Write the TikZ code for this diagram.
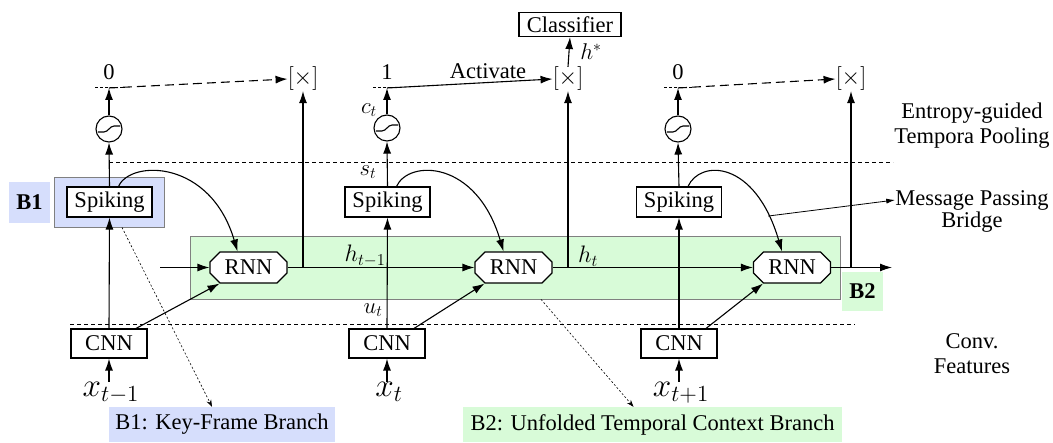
\documentclass[tikz,border=0pt]{standalone}
\usepackage{fontspec}
\setmainfont{Liberation Serif}
\usetikzlibrary{arrows.meta,shapes.misc,calc}
\definecolor{bluebg}{RGB}{214,222,252}
\definecolor{greenbg}{RGB}{216,251,216}
\newcommand{\scmath}[2]{\scalebox{#1}{$#2$}}
\begin{document}
\begin{tikzpicture}[x=1pt,y=-1pt,font=\fontsize{22.5}{25}\selectfont,
  lw/.style={line width=1.1pt},
  arr/.style={lw,-{Latex[length=12pt,width=8pt]}},
  thinarr/.style={line width=0.8pt,-{Latex[length=9pt,width=5pt]}},
  dotarr/.style={line width=0.6pt,dash pattern=on 2pt off 2pt,-{Stealth[length=7pt,width=5pt]}},
  topdash/.style={dash pattern=on 9pt off 5pt},
  shortdash/.style={line width=1pt,dash pattern=on 3pt off 2pt},
  leveldash/.style={line width=1pt,dash pattern=on 4pt off 3pt},
  box/.style={draw,lw,fill=white,inner sep=0pt},
  rnnbox/.style={chamfered rectangle,chamfered rectangle xsep=5pt,chamfered rectangle ysep=5pt,
    draw,lw,fill=white,minimum width=77pt,minimum height=31pt,inner sep=0pt},
  sigm/.style={circle,draw,lw,fill=white,minimum size=26pt,inner sep=0pt,
    path picture={\draw[lw] ([xshift=-11pt,yshift=-3pt]path picture bounding box.center)
      -- ++(6pt,0pt) .. controls +(4pt,0pt) and +(-4pt,0pt) .. ++(10pt,6pt) -- ++(6pt,0pt);}},
  area/.style={draw=gray,line width=0.8pt,inner sep=0pt},
  tag/.style={inner sep=0pt},
  lbl/.style={inner sep=0pt}]
\useasboundingbox (0,0) rectangle (1053,443);

% background areas
\node[area,fill=bluebg,minimum width=110pt,minimum height=50pt] (b1area) at (109,202) {};
\node[area,fill=greenbg,minimum width=650pt,minimum height=63pt] (garea) at (515,267.5) {};
\node[tag,fill=bluebg,minimum width=41pt,minimum height=41pt] (b1tag) at (29.5,202.5) {\textbf{B1}};
\node[tag,fill=greenbg,minimum width=41pt,minimum height=39pt] (b2tag) at (862.5,291.5) {\textbf{B2}};
\node[tag,fill=bluebg,minimum width=226pt,minimum height=35pt] (b1lab) at (222,424.5) {B1: Key-Frame Branch};
\node[tag,fill=greenbg,minimum width=379pt,minimum height=35pt] (b2lab) at (652.5,424.5) {B2: Unfolded Temporal Context Branch};

% level lines
\coordinate (L1a) at (109,163); \coordinate (L1b) at (893,163);
\coordinate (L2a) at (70,325);  \coordinate (L2b) at (855,325);
\draw[leveldash] (L1a) -- (L1b);
\draw[leveldash] (L2a) -- (L2b);

% boxes
\node[box,minimum width=85pt,minimum height=30pt] (sp1) at (109.5,202) {Spiking};
\node[box,minimum width=85pt,minimum height=30pt] (sp2) at (387.5,202) {Spiking};
\node[box,minimum width=85pt,minimum height=30pt] (sp3) at (679,202) {Spiking};
\node[box,minimum width=76pt,minimum height=29pt] (cnn1) at (109,343.5) {CNN};
\node[box,minimum width=76pt,minimum height=29pt] (cnn2) at (387,343.5) {CNN};
\node[box,minimum width=76pt,minimum height=29pt] (cnn3) at (679,343.5) {CNN};
\node[rnnbox] (rnn1) at (248.5,267.5) {RNN};
\node[rnnbox] (rnn2) at (513.5,267.5) {RNN};
\node[rnnbox] (rnn3) at (792,267.5) {RNN};
\node[sigm] (sg1) at (109,129) {};
\node[sigm] (sg2) at (387,128) {};
\node[sigm] (sg3) at (678,129) {};
\node[lbl] (mx1) at (303,79) {\scmath{1.15}{[\times]}};
\node[lbl] (mx2) at (568,79) {\scmath{1.15}{[\times]}};
\node[lbl] (mx3) at (851,79) {\scmath{1.15}{[\times]}};
\node[box,minimum width=102pt,minimum height=24pt] (cls) at (570,24.5) {Classifier};

% levels
\coordinate (lv1) at (109,88);
\coordinate (lv2) at (387,88);
\coordinate (lv3) at (678,88);
\node[lbl] (v1) at (109,72) {0};
\node[lbl] (v2) at (387,72) {1};
\node[lbl] (v3) at (678,72) {0};
\draw[shortdash] ([xshift=-14pt]lv1) -- ([xshift=14pt]lv1);
\draw[shortdash] ([xshift=-14pt]lv2) -- ([xshift=14pt]lv2);
\draw[shortdash] ([xshift=-14pt]lv3) -- ([xshift=14pt]lv3);
\draw[arr,topdash] (lv1) -- (mx1.west);
\draw[arr] (lv2) -- (mx2.west);
\draw[arr,topdash] (lv3) -- (mx3.west);
\node[lbl] (act) at (488,71) {Activate};
\draw[arr] (mx2.north) -- (cls.south);
\node[lbl] (hs) at (591,52) {\scmath{1.1}{h^*}};

% columns
\foreach \i in {1,2,3}{
  \draw[arr] (cnn\i.north) -- (sp\i.south);
  \draw[arr] (sp\i.north) -- (sg\i.south);
  \draw[arr] (sg\i.north) -- (lv\i);
  \draw[arr] ([xshift=27pt]cnn\i.north) -- ([xshift=-29pt]rnn\i.south);
}
\draw[arr] ([xshift=9pt]sp1.north) .. controls +(12,-27) and +(-27,-92) .. ([xshift=-11pt]rnn1.north);
\draw[arr] ([xshift=9pt]sp2.north) .. controls +(12,-27) and +(-27,-92) .. ([xshift=-10pt]rnn2.north);
\draw[arr] ([xshift=9pt]sp3.north) .. controls +(12,-27) and +(-27,-92) .. ([xshift=-10pt]rnn3.north) coordinate[pos=0.85] (mp);

% recurrent chain
\coordinate (in0) at (160,267.5);
\coordinate (out) at (892,267.5);
\draw[arr] (in0) -- (rnn1.west);
\draw[arr] (rnn1.east) -- (rnn2.west);
\draw[arr] (rnn2.east) -- (rnn3.west);
\draw[arr] (rnn3.east) -- (out);
\draw[arr] (rnn1.east -| mx1.south) -- (mx1.south);
\draw[arr] (rnn2.east -| mx2.south) -- (mx2.south);
\draw[arr] (rnn3.east -| mx3.south) -- (mx3.south);

% inputs
\node[lbl,anchor=north] (in1) at (111,382) {\scmath{1.6}{x_{t-1}}};
\node[lbl,anchor=north] (in2) at (389,382) {\scmath{1.6}{x_t}};
\node[lbl,anchor=north] (in3) at (681,382) {\scmath{1.6}{x_{t+1}}};
\draw[arr] (in1.north -| cnn1.south) -- (cnn1.south);
\draw[arr] (in2.north -| cnn2.south) -- (cnn2.south);
\draw[arr] (in3.north -| cnn3.south) -- (cnn3.south);

% variable labels
\node[lbl] (ct) at (369,110) {\scmath{1.1}{c_t}};
\node[lbl] (st) at (368,172) {\scmath{1.1}{s_t}};
\node[lbl] (ut) at (373,310) {\scmath{1.1}{u_t}};
\node[lbl] (htm) at (365,256) {\scmath{1.15}{h_{t-1}}};
\node[lbl] (ht) at (588,256) {\scmath{1.15}{h_t}};

% right side labels
\node[lbl,align=center] (etp) at (972,126) {Entropy-guided\\Tempora Pooling};
\node[lbl] (mp1) at (972,200) {Message Passing};
\node[lbl] (mp2) at (972,222) {Bridge};
\node[lbl,align=center] (cf) at (972,354) {Conv.\\Features};
\draw[thinarr] (mp) -- (mp1.west);

% branch pointers
\draw[dotarr] ([xshift=13pt]b1area.south) -- ([xshift=-10pt]b1lab.north);
\draw[dotarr] ([xshift=26pt]garea.south) -- ([xshift=-19pt]b2lab.north);
\end{tikzpicture}
\end{document}
